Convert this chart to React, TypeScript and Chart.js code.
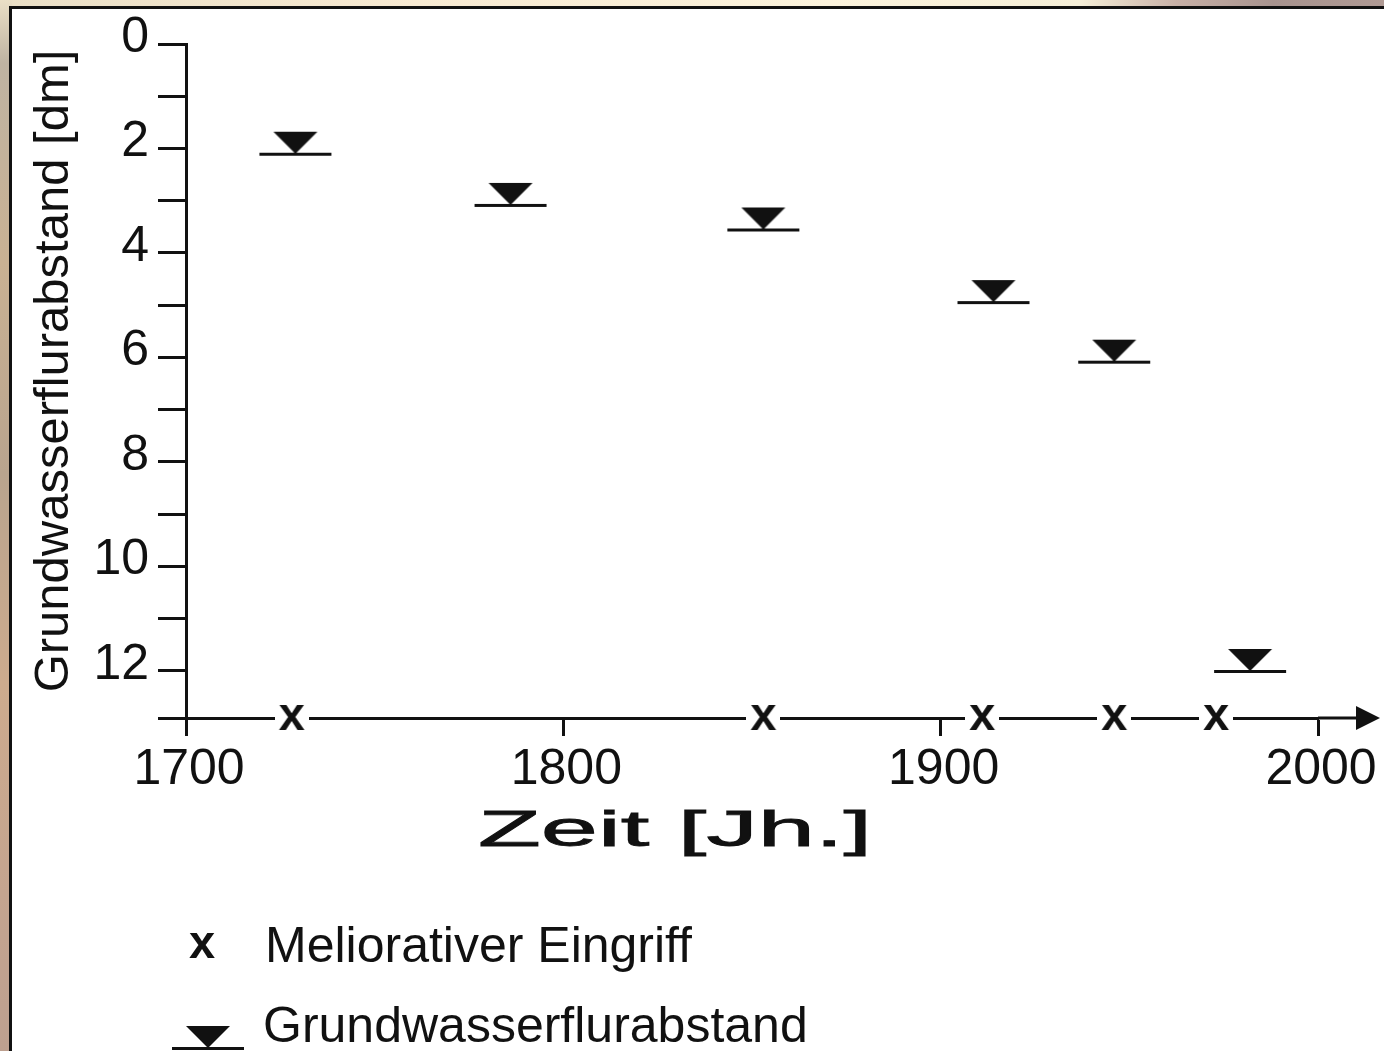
import React, { useEffect, useRef } from 'react';
import { Chart, registerables } from 'chart.js';

Chart.register(...registerables);

// ---------- data ----------
const X_TICKS = [1700, 1800, 1900, 2000];
const X_TICK_LABELS = ['1700', '1800', '1900', '2000'];
const Y_TICKS = [0, 1, 2, 3, 4, 5, 6, 7, 8, 9, 10, 11, 12];
const Y_TICK_LABELS = ['0', '', '2', '', '4', '', '6', '', '8', '', '10', '', '12'];
const Y_AXIS_END = 12.9; // depth at the time axis

const MELIOR_YEARS = [1728, 1853, 1911, 1946, 1973];
const WATER_YEARS = [1729, 1786, 1853, 1914, 1946, 1982];
const WATER_DEPTH = [2.1, 3.08, 3.55, 4.94, 6.08, 12.0];

const SERIES_LABELS = ['Meliorativer Eingriff', 'Grundwasserflurabstand'];
const Y_TITLE = 'Grundwasserflurabstand [dm]';
const X_TITLE = 'Zeit [Jh.]';

const FONT = '"Liberation Sans", Arial, Helvetica, sans-serif';
const INK = '#111111';

function makeCrossImage(withBg: boolean): HTMLCanvasElement {
  const c = document.createElement('canvas');
  c.width = 34;
  c.height = 34;
  const g = c.getContext('2d')!;
  if (withBg) {
    g.fillStyle = '#ffffff';
    g.fillRect(0, 0, 34, 34);
  }
  g.fillStyle = INK;
  g.font = `bold 47px ${FONT}`;
  g.textAlign = 'center';
  g.textBaseline = 'alphabetic';
  const m = g.measureText('x');
  g.fillText('x', 17, 16 + (m.actualBoundingBoxAscent - m.actualBoundingBoxDescent) / 2);
  return c;
}

function makeWaterImage(): HTMLCanvasElement {
  const c = document.createElement('canvas');
  c.width = 74;
  c.height = 50;
  const g = c.getContext('2d')!;
  g.fillStyle = INK;
  g.fillRect(1, 24, 72, 3);
  g.beginPath();
  g.moveTo(15, 3);
  g.lineTo(59, 3);
  g.lineTo(37, 25);
  g.closePath();
  g.fill();
  return c;
}

const backgroundPlugin = {
  id: 'paperBackground',
  beforeDraw(chart: any) {
    const { ctx, width, height } = chart;
    ctx.save();
    const gl = ctx.createLinearGradient(0, 0, 0, height);
    gl.addColorStop(0, '#eadfc6');
    gl.addColorStop(0.06, '#bfb3a2');
    gl.addColorStop(0.25, '#c9b193');
    gl.addColorStop(0.45, '#b9a48e');
    gl.addColorStop(0.65, '#cdab8e');
    gl.addColorStop(0.85, '#c4a48f');
    gl.addColorStop(1, '#bda08f');
    ctx.fillStyle = gl;
    ctx.fillRect(0, 0, 12, height);
    const gt = ctx.createLinearGradient(0, 0, width, 0);
    gt.addColorStop(0, '#eadfc6');
    gt.addColorStop(0.3, '#f8ead2');
    gt.addColorStop(0.6, '#fcf3dc');
    gt.addColorStop(0.78, '#f6efd8');
    gt.addColorStop(0.85, '#c8b0a6');
    gt.addColorStop(0.92, '#a8938e');
    gt.addColorStop(1, '#b09a94');
    ctx.fillStyle = gt;
    ctx.fillRect(12, 0, width, 9);
    ctx.fillStyle = INK;
    ctx.fillRect(9, 6, width, 3);
    ctx.fillRect(9, 6, 3, height);
    ctx.fillStyle = '#ffffff';
    ctx.fillRect(12, 9, width, height);
    ctx.restore();
  },
};

function makeDecorPlugin(crossImg: HTMLCanvasElement, waterImg: HTMLCanvasElement) {
  return {
    id: 'decor',
    afterDraw(chart: any) {
      const { ctx } = chart;
      const xs = chart.scales.x;
      const axisY = xs.top;
      ctx.save();
      // arrow extension of the time axis
      ctx.strokeStyle = INK;
      ctx.lineWidth = 3;
      ctx.beginPath();
      ctx.moveTo(xs.right, axisY);
      ctx.lineTo(1362, axisY);
      ctx.stroke();
      ctx.fillStyle = INK;
      ctx.beginPath();
      ctx.moveTo(1356, axisY - 12);
      ctx.lineTo(1380, axisY);
      ctx.lineTo(1356, axisY + 12);
      ctx.closePath();
      ctx.fill();

      // y title
      ctx.fillStyle = INK;
      ctx.font = `49px ${FONT}`;
      ctx.textAlign = 'center';
      ctx.textBaseline = 'alphabetic';
      ctx.save();
      ctx.translate(68, 371);
      ctx.rotate(-Math.PI / 2);
      ctx.fillText(Y_TITLE, 0, 0);
      ctx.restore();

      // x title (extended lettering)
      ctx.save();
      ctx.font = `50px ${FONT}`;
      const w = ctx.measureText(X_TITLE).width;
      ctx.translate(675, 846);
      ctx.scale(394 / w, 1);
      ctx.textAlign = 'center';
      ctx.lineWidth = 0.8;
      ctx.strokeStyle = INK;
      ctx.fillText(X_TITLE, 0, 0);
      ctx.strokeText(X_TITLE, 0, 0);
      ctx.restore();

      // legend
      const ds = chart.data.datasets;
      ctx.drawImage(crossImg, 202 - 17, 946 - 17);
      ctx.drawImage(waterImg, 208 - 37, 1048 - 25);
      ctx.font = `50px ${FONT}`;
      ctx.textAlign = 'left';
      ctx.fillText(ds[0].label, 265, 962);
      ctx.fillText(ds[1].label, 263, 1042);
      ctx.restore();
    },
  };
}

export default function App() {
  const ref = useRef<HTMLCanvasElement | null>(null);

  useEffect(() => {
    const canvas = ref.current;
    if (!canvas) return;
    const crossImg = makeCrossImage(true);
    const waterImg = makeWaterImage();

    const chart: any = new Chart(canvas, {
      type: 'scatter',
      data: {
        datasets: [
          {
            label: SERIES_LABELS[0],
            data: MELIOR_YEARS.map((x) => ({ x, y: Y_AXIS_END })),
            pointStyle: crossImg as any,
            pointRadius: 10,
            clip: false as any,
          },
          {
            label: SERIES_LABELS[1],
            data: WATER_YEARS.map((x, i) => ({ x, y: WATER_DEPTH[i] })),
            pointStyle: waterImg as any,
            pointRadius: 10,
            clip: false as any,
          },
        ],
      },
      options: {
        responsive: false,
        animation: false,
        events: [],
        layout: { padding: { left: 0, top: 44, right: 66, bottom: 0 } },
        plugins: {
          legend: { display: false },
          tooltip: { enabled: false },
          title: { display: false },
        },
        scales: {
          x: {
            type: 'linear',
            min: X_TICKS[0],
            max: X_TICKS[X_TICKS.length - 1],
            afterBuildTicks: (s: any) => {
              s.ticks = X_TICKS.map((v) => ({ value: v }));
            },
            afterFit: (s: any) => {
              s.height = 333;
            },
            grid: {
              drawOnChartArea: false,
              drawTicks: true,
              tickLength: 18,
              tickWidth: 3,
              tickColor: INK,
            },
            border: { display: true, color: INK, width: 3 },
            ticks: {
              font: { family: FONT, size: 50 },
              color: INK,
              padding: 4,
              labelOffset: 3,
              maxRotation: 0,
              autoSkip: false,
              callback: (v: any) => {
                const i = X_TICKS.indexOf(Number(v));
                return i >= 0 ? X_TICK_LABELS[i] : '';
              },
            },
          },
          y: {
            type: 'linear',
            reverse: true,
            min: 0,
            max: Y_AXIS_END,
            afterBuildTicks: (s: any) => {
              s.ticks = [...Y_TICKS, Y_AXIS_END].map((v) => ({ value: v }));
            },
            afterFit: (s: any) => {
              s.width = 186;
            },
            grid: {
              drawOnChartArea: false,
              drawTicks: true,
              tickLength: 28,
              tickWidth: 3,
              tickColor: INK,
            },
            border: { display: true, color: INK, width: 3 },
            ticks: {
              font: { family: FONT, size: 50 },
              color: INK,
              padding: 9,
              labelOffset: -6,
              autoSkip: false,
              callback: (v: any) => {
                const i = Y_TICKS.indexOf(Number(v));
                return i >= 0 ? Y_TICK_LABELS[i] : '';
              },
            },
          },
        },
      } as any,
      plugins: [backgroundPlugin, makeDecorPlugin(crossImg, waterImg)],
    });

    return () => chart.destroy();
  }, []);

  return (
    <div style={{ position: 'fixed', left: 0, top: 0, width: 1384, height: 1051 }}>
      <canvas ref={ref} width={1384} height={1051} style={{ display: 'block' }} />
    </div>
  );
}
